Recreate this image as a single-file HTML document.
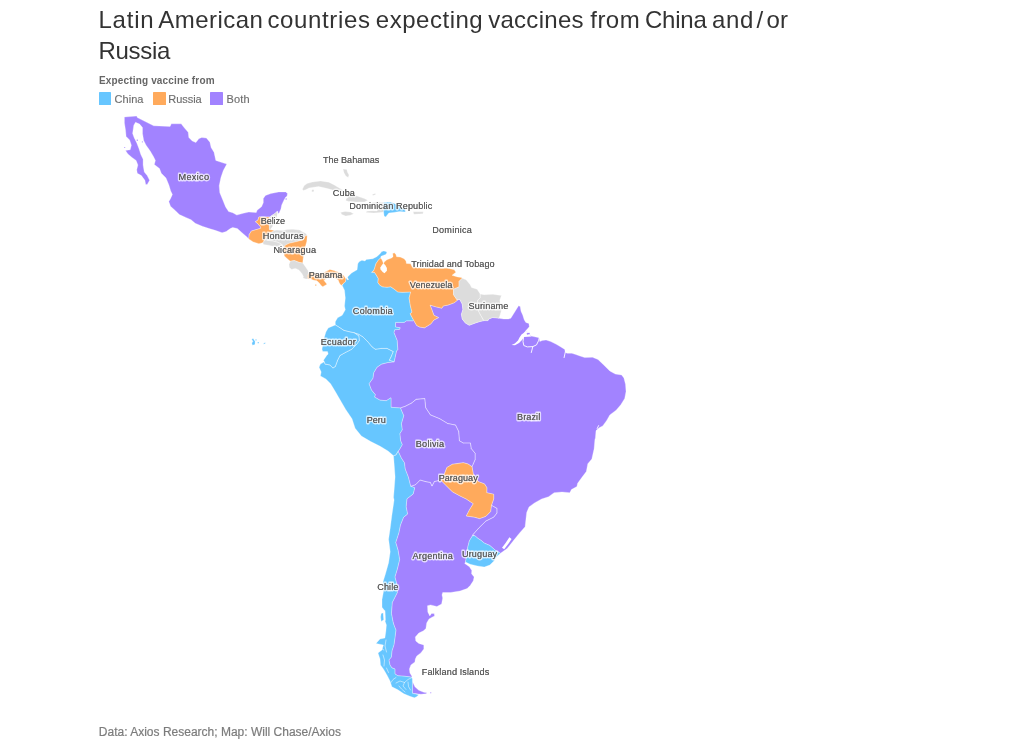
<!DOCTYPE html>
<html><head><meta charset="utf-8"><title>Latin American countries expecting vaccines</title>
<style>
html,body{margin:0;padding:0;background:#fff;}
body{width:1024px;height:752px;position:relative;overflow:hidden;font-family:"Liberation Sans",sans-serif;}
.tw{position:absolute;font-size:24px;line-height:24px;color:#333;white-space:nowrap;}
.lt{position:absolute;left:99px;top:75px;font-size:10px;font-weight:bold;color:#666;line-height:12px;white-space:nowrap;letter-spacing:0.157px;}
.lg{position:absolute;top:93.4px;font-size:11px;color:#6e6e6e;line-height:13px;white-space:nowrap;-webkit-text-stroke:0.15px #6e6e6e;}
.sw{position:absolute;top:92.3px;width:12.8px;height:12.6px;border-radius:0.6px;}
.src{position:absolute;left:98.85px;top:725px;font-size:12px;color:#7c7c7c;line-height:14px;white-space:nowrap;letter-spacing:0px;-webkit-text-stroke:0.2px #7c7c7c;}
</style></head><body><div id="root" style="position:absolute;left:0;top:0;width:1024px;height:752px;will-change:transform;">
<span class="tw" style="left:98.44px;top:8px;letter-spacing:0.775px">Latin</span><span class="tw" style="left:158.36px;top:8px;letter-spacing:0.435px">American</span><span class="tw" style="left:267.4px;top:8px;letter-spacing:0.64px">countries</span><span class="tw" style="left:375.86px;top:8px;letter-spacing:0.513px">expecting</span><span class="tw" style="left:488.2px;top:8px;letter-spacing:0.279px">vaccines</span><span class="tw" style="left:590.26px;top:8px;letter-spacing:0.46px">from</span><span class="tw" style="left:645.0px;top:8px;letter-spacing:-0.235px">China</span><span class="tw" style="left:711.96px;top:8px;letter-spacing:0.71px">and</span><span class="tw" style="left:756.5px;top:8px;letter-spacing:0px">/</span><span class="tw" style="left:766.47px;top:8px;letter-spacing:0.1px">or</span><span class="tw" style="left:98.44px;top:39px;letter-spacing:-0.27px">Russia</span>
<div class="lt">Expecting vaccine from</div>
<div class="sw" style="left:98.7px;background:#67C6FF"></div><div class="lg" style="left:114.5px;letter-spacing:0.05px">China</div>
<div class="sw" style="left:152.8px;background:#FFAA5C"></div><div class="lg" style="left:168.3px;letter-spacing:-0.04px">Russia</div>
<div class="sw" style="left:210.1px;background:#A283FF"></div><div class="lg" style="left:226.4px;letter-spacing:0.23px">Both</div>
<svg width="1024" height="752" viewBox="0 0 1024 752" style="position:absolute;left:0;top:0">
<g stroke="#fff" stroke-width="0.3" stroke-linejoin="round">
<path d="M458.2,299.6 459.8,299.4 462.2,304.1 462.9,309.6 461.4,314.3 462.2,319.0 465.3,322.9 469.2,325.3 475.5,322.9 480.2,321.4 484.1,320.6 488.0,320.6 488.8,319.0 492.7,317.5 495.9,317.8 499.0,318.2 503.7,319.0 508.4,319.0 510.8,318.2 514.7,312.0 518.6,305.7 520.2,306.5 521.0,311.2 522.7,315.0 524.2,319.7 525.8,322.4 528.9,323.6 529.3,326.7 527.3,329.1 525.8,330.6 531.3,336.1 539.1,337.7 539.8,341.6 542.2,340.4 546.1,340.0 550.8,341.6 556.3,344.3 560.9,347.0 564.8,349.4 565.2,352.5 567.2,353.3 571.9,353.3 575.8,354.5 580.0,356.0 584.7,357.6 592.5,357.3 598.0,359.5 603.5,364.7 609.8,371.0 615.3,374.1 621.6,374.9 623.9,378.0 625.5,384.3 626.0,391.4 624.7,398.4 620.8,404.7 616.1,410.2 609.8,414.9 606.7,420.4 602.7,425.9 599.6,427.5 596.0,430.6 595.4,438.0 594.9,439.4 594.1,448.8 591.8,459.0 587.8,463.7 586.3,471.6 581.6,477.8 577.6,483.3 576.9,486.5 571.4,489.6 569.8,492.7 562.0,492.0 554.1,492.7 548.6,496.7 541.6,499.0 534.5,502.9 529.0,506.9 526.7,512.4 525.9,519.4 525.1,526.7 519.6,532.9 513.3,540.8 507.1,548.6 500.5,553.3 495.3,550.2 489.8,545.5 484.3,543.1 481.2,540.5 478.0,538.4 474.9,535.8 472.5,535.1 478.8,528.0 485.9,521.0 493.7,517.1 496.9,513.1 496.9,508.4 491.4,505.3 493.7,499.0 493.7,494.3 486.7,492.7 486.9,487.8 484.5,483.9 478.2,481.6 473.3,473.9 472.0,466.7 475.1,459.6 475.1,453.3 471.2,448.6 470.4,443.1 463.3,443.1 459.4,440.8 458.6,431.4 455.5,425.1 447.6,423.5 439.8,418.8 430.4,414.9 425.7,407.8 424.7,398.6 416.1,399.4 411.6,403.1 405.3,406.3 400.4,408.0 391.0,407.3 391.0,397.8 386.3,400.7 380.0,400.2 374.5,397.1 375.3,394.7 371.4,390.0 369.0,383.7 372.9,378.2 373.7,372.7 376.9,367.3 381.6,364.1 387.8,362.5 394.1,361.8 396.5,350.8 397.8,349.8 397.1,340.4 393.9,332.5 394.7,329.7 399.4,329.4 400.2,327.8 395.5,327.1 395.5,322.4 404.1,322.4 406.5,320.8 412.7,320.8 413.5,320.0 416.7,325.5 419.8,327.1 424.5,327.8 430.8,323.9 433.9,320.0 438.6,317.6 433.9,315.3 431.6,309.0 430.0,305.1 435.5,306.7 441.8,308.2 443.3,305.9 448.0,305.1 454.3,302.7Z" fill="#A283FF"/>
<path d="M410.8,486.3 415.5,484.7 420.2,480.0 425.7,481.6 430.4,482.4 432.0,486.0 434.3,481.6 440.6,480.0 446.1,485.5 452.4,491.8 460.0,495.9 466.3,499.0 473.3,503.7 469.4,510.0 466.3,516.0 474.1,517.1 479.6,518.6 485.9,516.3 490.6,511.6 491.4,505.3 496.9,508.4 496.9,513.1 493.7,517.1 485.9,521.0 478.8,528.0 472.5,535.1 472.5,535.8 469.4,540.8 467.8,547.1 466.3,558.0 465.5,562.0 464.7,563.5 469.4,566.7 471.8,570.6 471.5,573.7 474.1,576.9 473.3,580.8 470.2,585.5 467.1,588.6 460.0,591.0 450.6,592.5 442.7,592.5 442.0,594.9 442.7,598.0 441.6,604.1 436.9,606.5 430.6,604.9 427.5,605.7 427.8,612.0 429.8,615.9 431.5,613.4 434.2,613.6 434.6,616.0 432.5,617.0 429.0,619.0 426.7,622.9 425.9,628.4 423.5,630.8 418.8,633.1 415.3,637.0 415.8,641.0 418.8,643.4 423.8,644.9 423.8,648.9 420.8,652.9 416.8,655.9 415.3,658.9 414.9,661.9 410.9,664.9 409.4,668.9 409.9,672.9 411.9,676.3 411.9,677.3 408.9,676.8 404.9,676.3 397.9,675.8 394.9,673.9 394.9,668.9 391.9,667.9 389.9,664.9 388.9,659.9 391.4,656.9 391.9,650.9 393.9,644.9 394.9,638.0 395.9,630.0 393.9,625.0 392.9,621.4 391.4,613.5 392.2,602.5 393.3,600.4 397.3,592.5 396.5,583.1 394.9,576.9 397.3,569.0 399.6,559.6 398.0,550.2 395.7,542.4 398.8,532.9 400.4,525.1 403.5,517.3 407.5,514.1 406.1,506.7 406.9,498.8 413.1,494.1 414.7,487.8ZM412.4,681.5 414.9,686.8 418.8,690.3 423.8,692.3 426.8,692.8 426.3,693.8 420.8,694.3 412.4,693.3ZM430.0,692.2 431.3,692.2 431.3,693.3 430.0,693.3Z" fill="#A283FF"/>
<path d="M393.5,455.7 395.9,454.9 398.2,451.0 401.4,458.0 404.5,462.7 405.3,469.0 408.4,476.9 410.8,486.3 414.7,487.8 413.1,494.1 406.9,498.8 406.1,506.7 407.5,514.1 403.5,517.3 400.4,525.1 398.8,532.9 395.7,542.4 398.0,550.2 399.6,559.6 397.3,569.0 394.9,576.9 396.5,583.1 397.3,592.5 393.3,600.4 392.2,602.5 391.4,613.5 392.9,621.4 393.9,625.0 395.9,630.0 394.9,638.0 393.9,644.9 391.9,650.9 391.4,656.9 388.9,659.9 389.9,664.9 391.9,667.9 394.9,668.9 394.9,673.9 397.9,675.8 404.9,676.3 408.9,676.8 411.9,677.3 412.4,679.3 412.4,693.3 418.8,694.8 416.5,696.8 414.4,697.8 409.9,696.3 403.9,693.8 397.9,689.8 391.9,686.8 389.9,680.8 386.9,674.9 383.4,668.9 380.5,664.9 380.0,658.9 378.0,652.9 382.0,650.0 383.4,645.0 376.0,643.4 380.0,639.0 384.9,638.0 385.9,631.0 386.4,625.0 385.0,621.0 384.5,610.4 382.0,607.3 382.0,599.4 383.5,591.6 383.1,581.6 385.5,573.7 388.6,562.7 390.2,551.8 388.6,539.2 390.2,528.2 391.8,515.7 394.1,500.0 393.5,497.3 394.3,487.8 395.1,476.9 394.3,465.9ZM381.2,613.5 383.3,612.8 383.8,619.8 381.2,621.4 380.6,617.0Z" fill="#67C6FF"/>
<path d="M400.4,408.0 405.3,406.3 411.6,403.1 416.1,399.4 424.7,398.6 425.7,407.8 430.4,414.9 439.8,418.8 447.6,423.5 455.5,425.1 458.6,431.4 459.4,440.8 463.3,443.1 470.4,443.1 471.2,448.6 475.1,453.3 475.1,459.6 472.0,466.7 468.0,464.0 463.3,462.7 452.4,464.3 446.9,467.5 444.5,473.7 440.6,480.0 434.3,481.6 432.0,486.0 430.4,482.4 425.7,481.6 420.2,480.0 415.5,484.7 410.8,486.3 408.4,476.9 405.3,469.0 404.5,462.7 401.4,458.0 398.2,451.0 399.0,450.2 402.2,444.7 400.6,440.8 399.8,433.7 402.2,429.8 401.4,423.5 403.7,415.7Z" fill="#A283FF"/>
<path d="M354.1,332.7 358.8,334.3 362.7,336.7 367.5,341.4 372.2,346.9 375.3,349.2 381.6,348.4 387.1,348.4 393.3,351.6 391.0,357.1 389.4,360.2 394.1,361.8 387.8,362.5 381.6,364.1 376.9,367.3 373.7,372.7 372.9,378.2 369.0,383.7 371.4,390.0 375.3,394.7 374.5,397.1 380.0,400.2 386.3,400.7 391.0,397.8 391.0,407.3 400.4,408.0 403.7,415.7 401.4,423.5 402.2,429.8 399.8,433.7 400.6,440.8 402.2,444.7 399.0,450.2 398.2,451.0 395.9,454.9 393.5,455.7 388.0,451.0 380.2,446.3 370.8,441.6 361.4,436.1 355.1,428.2 352.0,418.8 345.7,409.4 340.2,400.0 335.3,391.6 330.6,383.7 325.9,379.0 320.4,375.9 321.2,372.0 319.1,367.3 320.4,364.1 324.3,361.8 325.1,364.1 329.8,364.9 332.9,368.0 335.3,366.5 337.6,360.2 340.0,355.5 345.5,352.4 351.8,349.2 356.5,344.5 359.3,340.6 358.8,335.9Z" fill="#67C6FF"/>
<path d="M383.8,250.9 386.1,251.6 386.9,252.8 385.7,254.4 383.0,255.5 381.0,256.3 380.6,257.9 378.3,260.2 375.9,263.8 374.8,267.7 373.6,270.8 371.6,272.3 374.4,272.3 376.3,275.1 378.3,278.6 377.9,282.5 379.8,285.2 382.6,286.8 386.9,287.2 390.8,286.8 394.7,289.5 397.8,291.9 402.5,292.3 410.7,291.9 409.1,298.0 410.4,305.9 412.0,312.2 410.1,313.7 413.5,320.0 412.7,320.8 406.5,320.8 404.1,322.4 395.5,322.4 395.5,327.1 400.2,327.8 399.4,329.4 394.7,329.7 393.9,332.5 397.1,340.4 397.8,349.8 396.5,350.8 394.1,361.8 389.4,360.2 391.0,357.1 393.3,351.6 387.1,348.4 381.6,348.4 375.3,349.2 372.2,346.9 367.5,341.4 362.7,336.7 358.8,334.3 354.1,332.7 350.2,332.0 343.9,330.4 339.2,327.3 335.3,324.9 335.3,321.8 337.6,317.8 342.2,315.3 345.3,309.8 344.5,305.9 345.3,298.0 344.5,290.2 342.2,285.5 343.7,283.1 345.3,281.9 345.9,279.0 347.6,276.9 351.6,272.9 357.1,269.8 357.8,263.8 359.1,261.8 361.9,260.2 365.0,261.0 366.2,259.5 372.8,258.7 376.7,256.7 379.8,254.0 381.8,251.6Z" fill="#67C6FF"/>
<path d="M380.6,257.9 381.8,259.5 382.8,261.8 383.4,263.4 384.5,261.8 386.9,259.8 391.6,257.9 393.1,256.7 392.7,253.6 394.3,252.8 395.9,254.4 396.6,256.7 400.2,257.1 404.1,258.7 406.0,261.0 406.4,263.4 410.7,263.8 412.0,266.7 419.8,267.9 435.5,268.2 448.0,268.2 454.3,269.8 455.9,272.2 452.0,275.3 457.5,276.9 461.4,277.6 462.2,278.2 459.0,281.4 459.0,286.9 453.5,289.2 453.5,294.7 456.7,299.4 458.2,299.6 454.3,302.7 448.0,305.1 443.3,305.9 441.8,308.2 435.5,306.7 430.0,305.1 431.6,309.0 433.9,315.3 438.6,317.6 433.9,320.0 430.8,323.9 424.5,327.8 419.8,327.1 416.7,325.5 413.5,320.0 410.1,313.7 412.0,312.2 410.4,305.9 409.1,298.0 410.7,291.9 402.5,292.3 397.8,291.9 394.7,289.5 390.8,286.8 386.9,287.2 382.6,286.8 379.8,285.2 377.9,282.5 378.3,278.6 376.3,275.1 374.4,272.3 371.6,272.3 373.6,270.8 374.8,267.7 375.9,263.8 378.3,260.2Z" fill="#FFAA5C"/>
<path d="M335.3,324.9 339.2,327.3 343.9,330.4 350.2,332.0 354.1,332.7 358.8,335.9 359.3,340.6 356.5,344.5 351.8,349.2 345.5,352.4 340.0,355.5 337.6,360.2 335.3,366.5 332.9,368.0 329.8,364.9 325.1,364.1 324.3,361.8 323.5,360.2 326.7,355.5 328.2,353.9 327.5,351.6 322.7,351.6 322.0,349.2 323.5,340.0 325.9,332.0 328.2,328.0ZM251.6,339.0 253.2,338.4 255.1,341.5 255.0,344.6 252.4,345.2 251.8,343.0 253.0,341.5ZM255.4,339.2 256.6,339.2 256.6,340.4 255.4,340.4ZM257.6,342.0 259.0,342.0 259.0,343.3 257.6,343.3ZM263.6,343.2 265.2,342.6 265.4,343.6 263.8,344.2Z" fill="#67C6FF"/>
<path d="M440.6,480.0 444.5,473.7 446.9,467.5 452.4,464.3 463.3,462.7 468.0,464.0 472.0,466.7 473.3,473.9 478.2,481.6 484.5,483.9 486.9,487.8 486.7,492.7 493.7,494.3 493.7,499.0 491.4,505.3 490.6,511.6 485.9,516.3 479.6,518.6 474.1,517.1 466.3,516.0 469.4,510.0 473.3,503.7 466.3,499.0 460.0,495.9 452.4,491.8 446.1,485.5Z" fill="#FFAA5C"/>
<path d="M474.9,535.8 478.0,538.4 481.2,540.5 484.3,543.1 489.8,545.5 495.3,550.2 500.5,553.3 496.9,556.5 493.7,561.2 489.8,565.1 484.3,567.1 477.3,565.9 470.2,564.3 465.5,562.0 466.3,558.0 467.8,547.1 469.4,540.8 472.5,535.8Z" fill="#67C6FF"/>
<path d="M462.2,278.2 466.1,279.8 470.0,284.5 471.6,287.6 477.1,289.2 480.2,293.9 480.2,297.8 477.8,300.2 477.2,305.0 477.8,309.6 480.2,314.3 483.3,319.8 484.1,320.6 480.2,321.4 475.5,322.9 469.2,325.3 465.3,322.9 462.2,319.0 461.4,314.3 462.9,309.6 462.2,304.1 459.8,299.4 458.2,299.6 456.7,299.4 453.5,294.7 453.5,289.2 459.0,286.9 459.0,281.4Z" fill="#DCDCDC"/>
<path d="M480.2,293.9 484.1,294.7 492.7,294.2 501.4,295.5 499.8,300.2 500.4,305.0 501.4,310.4 499.8,315.9 499.0,318.2 495.9,317.8 492.7,317.5 488.8,319.0 488.0,320.6 484.1,320.6 483.3,319.8 480.2,314.3 477.8,309.6 477.2,305.0 477.8,300.2 480.2,297.8Z" fill="#DCDCDC"/>
<path d="M124.4,117.0 136.7,116.1 137.3,117.6 153.7,125.8 170.1,126.4 171.3,123.8 181.2,123.8 184.1,127.6 188.2,132.3 188.8,137.5 192.3,141.1 195.9,142.6 198.8,138.7 201.7,137.5 206.4,138.1 209.9,142.2 211.1,147.5 214.0,152.2 215.8,160.4 220.5,162.1 226.8,164.1 223.3,170.5 220.9,177.6 219.2,185.8 219.8,192.8 222.7,199.8 225.6,206.9 228.6,211.6 232.7,212.7 236.8,215.1 243.2,213.3 248.8,212.1 256.3,212.5 257.1,210.3 261.5,206.8 263.3,202.8 263.3,198.5 265.5,195.4 270.8,193.6 278.7,191.9 285.7,191.9 287.5,193.6 287.0,196.3 285.7,197.1 283.9,200.2 281.7,205.0 280.9,209.0 279.1,213.0 277.8,213.4 277.8,211.2 276.9,211.6 275.1,213.4 272.5,215.1 269.9,216.9 258.9,216.9 258.0,220.0 255.4,221.7 258.0,223.9 260.7,227.0 260.7,228.3 257.6,229.2 251.4,231.0 249.2,234.5 248.8,238.9 246.7,236.8 242.0,232.7 237.3,228.6 232.7,227.4 230.3,228.6 226.2,231.5 222.1,232.7 215.1,230.3 209.2,228.6 202.2,226.2 195.2,223.3 191.1,219.8 185.8,217.4 179.3,214.5 175.2,210.4 170.5,206.3 168.8,201.6 170.5,198.7 172.4,194.4 170.7,190.9 168.9,185.0 166.0,178.0 161.3,173.3 159.5,168.6 154.3,164.5 155.4,160.4 153.7,156.9 150.2,151.0 146.1,145.2 143.7,140.5 142.5,133.4 142.5,127.6 139.6,124.1 135.5,122.3 133.8,125.2 132.6,133.4 134.3,138.1 136.7,142.8 139.0,148.7 140.8,154.5 143.1,159.2 143.1,165.1 144.3,172.1 147.2,175.6 149.6,180.3 147.2,184.4 145.7,184.4 144.9,180.3 141.4,175.6 137.3,173.3 136.7,169.8 137.9,165.1 136.1,160.4 132.0,157.5 127.9,153.9 125.5,150.4 130.2,149.8 131.4,145.2 129.6,139.9 126.1,136.4 125.5,129.9 124.4,122.9ZM285.5,198.2 286.8,198.2 286.8,199.8 285.5,199.8ZM136.7,139.6 138.0,139.6 138.0,141.0 136.7,141.0ZM141.9,141.3 143.0,141.3 143.0,142.5 141.9,142.5ZM124.0,146.9 125.2,146.9 125.2,148.1 124.0,148.1Z" fill="#A283FF"/>
<path d="M258.9,216.9 269.4,216.9 269.4,229.6 274.3,230.5 272.5,231.8 269.0,232.7 267.0,236.0 265.0,239.8 262.8,242.8 258.9,243.7 253.2,241.9 248.8,238.9 249.2,234.5 251.4,231.0 257.6,229.2 260.7,228.3 260.7,227.0 258.0,223.9 255.4,221.7 258.0,220.0Z" fill="#FFAA5C"/>
<path d="M276.9,211.6 277.3,213.8 276.9,216.9 275.0,222.0 272.5,226.6 270.3,229.6 269.4,229.6 269.4,216.9 269.9,216.9 272.5,215.1 275.1,213.4Z" fill="#DCDCDC"/>
<path d="M274.3,230.5 276.9,230.1 282.2,230.5 287.5,229.6 292.7,229.2 299.8,230.1 302.4,231.8 305.9,233.6 307.2,235.4 305.0,236.2 303.3,239.8 297.1,241.5 289.2,243.3 285.6,245.0 283.8,247.0 283.2,246.4 281.4,244.1 277.9,242.3 273.1,241.1 269.0,240.5 265.0,239.8 267.0,236.0 269.0,232.7 272.5,231.8Z" fill="#DCDCDC"/>
<path d="M262.8,242.8 265.0,239.8 269.0,240.5 273.1,241.1 277.9,242.3 281.4,244.1 283.2,246.4 280.2,247.0 274.3,246.4 268.4,245.2 263.7,244.6Z" fill="#DCDCDC"/>
<path d="M307.2,235.4 306.8,241.5 305.5,245.9 304.2,251.0 303.3,257.7 302.7,263.0 299.2,262.4 294.4,260.6 290.3,261.2 287.3,258.8 284.4,255.9 283.6,252.0 283.8,247.0 285.6,245.0 289.2,243.3 297.1,241.5 303.3,239.8 305.0,236.2Z" fill="#FFAA5C"/>
<path d="M290.3,261.2 294.4,260.6 299.2,262.4 302.7,263.0 305.8,267.2 308.1,270.7 308.6,273.0 307.5,276.0 308.0,279.0 305.8,278.9 303.0,278.1 303.4,276.6 301.9,273.4 298.8,269.9 295.6,268.4 293.7,268.8 291.7,269.5 289.4,267.6 289.0,264.5Z" fill="#DCDCDC"/>
<path d="M308.6,273.0 313.0,272.0 318.0,274.5 324.0,272.5 329.9,269.5 334.7,270.7 340.6,273.0 344.1,276.0 345.9,279.0 345.3,281.9 343.0,283.7 341.2,285.5 339.4,283.1 338.2,280.1 334.0,277.5 330.0,276.5 326.0,278.5 324.0,280.5 325.2,281.9 327.0,284.3 322.8,286.7 321.1,285.5 319.3,283.1 316.9,280.7 313.0,280.0 311.0,279.0 308.0,279.0 307.5,276.0ZM315.0,284.6 316.4,284.6 316.4,285.8 315.0,285.8Z" fill="#FFAA5C"/>
<path d="M302.4,189.2 304.1,185.7 307.0,183.6 312.4,182.0 320.6,180.9 328.8,182.2 334.3,184.9 338.4,187.6 345.0,191.2 350.0,193.6 356.2,195.8 364.4,198.6 367.8,200.3 364.4,201.9 356.2,202.1 348.6,201.4 345.7,200.5 346.4,198.6 348.2,197.6 343.0,194.6 338.0,192.0 332.9,190.0 327.4,188.6 322.0,187.3 318.6,186.6 313.8,187.2 309.0,188.0 305.6,189.8 303.2,190.4ZM311.7,189.9 313.3,189.5 314.0,190.6 313.4,191.9 311.9,191.7ZM372.4,194.2 375.4,193.6 375.6,194.8 372.8,195.4ZM343.0,169.0 346.8,169.4 347.4,172.0 349.0,175.0 348.2,177.4 345.8,176.0 344.0,172.8Z" fill="#DCDCDC"/>
<path d="M340.5,212.5 345.0,211.5 350.4,212.1 353.8,213.7 350.4,215.3 345.7,216.0 341.8,214.5Z" fill="#DCDCDC"/>
<path d="M372.0,202.6 378.0,202.0 383.6,202.4 383.6,212.1 380.0,212.6 374.0,213.0 366.1,212.4 366.6,211.2 372.0,210.8 377.0,211.0 377.6,207.6 375.0,205.0 372.0,204.2Z" fill="#DCDCDC"/>
<path d="M383.6,202.4 390.4,202.0 394.3,203.5 400.0,206.5 405.3,209.0 405.3,212.1 399.8,211.4 393.5,212.5 388.8,213.0 385.7,216.9 384.1,216.1 383.6,212.1Z" fill="#67C6FF"/>
<path d="M413.1,211.7 423.3,211.8 423.0,213.7 413.9,214.3Z" fill="#DCDCDC"/>
</g>
<g fill="none" stroke="#fff" stroke-width="0.3" stroke-opacity="0.6" stroke-linecap="round">
<path d="M491.4,505.3L496.9,508.4M496.9,508.4L496.9,513.1M496.9,513.1L493.7,517.1M493.7,517.1L485.9,521.0M485.9,521.0L478.8,528.0M478.8,528.0L472.5,535.1M400.4,408.0L405.3,406.3M405.3,406.3L411.6,403.1M411.6,403.1L416.1,399.4M416.1,399.4L424.7,398.6M424.7,398.6L425.7,407.8M425.7,407.8L430.4,414.9M430.4,414.9L439.8,418.8M439.8,418.8L447.6,423.5M447.6,423.5L455.5,425.1M455.5,425.1L458.6,431.4M458.6,431.4L459.4,440.8M459.4,440.8L463.3,443.1M463.3,443.1L470.4,443.1M470.4,443.1L471.2,448.6M471.2,448.6L475.1,453.3M475.1,453.3L475.1,459.6M475.1,459.6L472.0,466.7M440.6,480.0L434.3,481.6M434.3,481.6L432.0,486.0M432.0,486.0L430.4,482.4M430.4,482.4L425.7,481.6M425.7,481.6L420.2,480.0M420.2,480.0L415.5,484.7M415.5,484.7L410.8,486.3M398.2,451.0L395.9,454.9M395.9,454.9L393.5,455.7M394.1,361.8L389.4,360.2M389.4,360.2L391.0,357.1M391.0,357.1L393.3,351.6M393.3,351.6L387.1,348.4M387.1,348.4L381.6,348.4M381.6,348.4L375.3,349.2M375.3,349.2L372.2,346.9M372.2,346.9L367.5,341.4M367.5,341.4L362.7,336.7M362.7,336.7L358.8,334.3M358.8,334.3L354.1,332.7M354.1,332.7L358.8,335.9M358.8,335.9L359.3,340.6M359.3,340.6L356.5,344.5M356.5,344.5L351.8,349.2M351.8,349.2L345.5,352.4M345.5,352.4L340.0,355.5M340.0,355.5L337.6,360.2M337.6,360.2L335.3,366.5M335.3,366.5L332.9,368.0M332.9,368.0L329.8,364.9M329.8,364.9L325.1,364.1M325.1,364.1L324.3,361.8M335.3,324.9L339.2,327.3M339.2,327.3L343.9,330.4M343.9,330.4L350.2,332.0M350.2,332.0L354.1,332.7M484.1,320.6L483.3,319.8M483.3,319.8L480.2,314.3M480.2,314.3L477.8,309.6M477.8,309.6L477.2,305.0M477.2,305.0L477.8,300.2M477.8,300.2L480.2,297.8M480.2,297.8L480.2,293.9M265.0,239.8L269.0,240.5M269.0,240.5L273.1,241.1M273.1,241.1L277.9,242.3M277.9,242.3L281.4,244.1M281.4,244.1L283.2,246.4"/>
</g>
<g fill="#fff">
<path d="M383.4,263.0 385.3,265.3 386.9,268.0 386.9,270.8 384.5,273.2 382.6,272.0 380.6,269.6 380.2,267.7 381.8,265.3Z"/>
<path d="M526.0,330.4 531.6,336.4 523.9,337.0 522.0,340.0 519.0,343.0 515.0,345.3 511.5,345.0 514.8,343.5 518.0,340.6 519.5,337.6 521.5,334.6 523.6,333.0Z"/>
<path d="M509.4,537.2 511.6,538.9 508.6,543.6 504.2,549.2 502.0,547.8 505.4,543.2Z"/>
<path d="M347.0,276.4 348.8,279.6 347.6,280.2 346.0,277.6Z"/>
<path d="M383.4,610.6 385.2,610.6 385.6,620.6 384.0,621.6Z"/>
</g>
<g fill="#A283FF">
<path d="M526.6,333.2 529.4,332.7 529.9,334.1 527.0,334.7Z"/>
</g>
<g fill="none" stroke="#fff" stroke-width="0.9" stroke-linecap="round" stroke-linejoin="round">
<path d="M523.6,337.0 523.0,341.6 523.8,345.5 527.3,346.9 532.8,346.6 536.5,344.9 538.5,340.8 539.3,337.7"/>
<path d="M532.8,346.6 531.3,352.5"/>
<path d="M565.2,352.5 564.1,357.6"/>
<path d="M598.6,425.6 597.2,428.5"/>
</g>
<g fill="none" stroke="#fff" stroke-width="0.6" stroke-opacity="0.85" stroke-linecap="round" stroke-linejoin="round">
<path d="M412.0,677.5 408.0,679.5 404.5,682.5 403.0,686.0 406.0,689.5"/>
<path d="M404.5,682.5 400.0,681.0 396.0,683.0"/>
<path d="M396.0,677.5 393.0,679.5 391.0,682.5"/>
<path d="M399.0,686.0 401.5,689.0 405.0,692.0"/>
<path d="M408.0,682.0 408.5,686.5 410.5,690.0"/>
<path d="M386.0,640.0 385.0,646.0 386.5,652.0"/>
<path d="M383.0,655.0 384.5,660.0 384.0,666.0"/>
<path d="M381.5,648.5 383.8,650.0"/>
<path d="M386.5,668.0 388.5,672.5"/>
<path d="M384.5,626.0 383.6,632.0"/>
</g>
<g font-family="Liberation Sans, sans-serif" font-size="9.2" text-anchor="middle" fill="#5e5e5e" stroke="#fff" stroke-opacity="0.7" stroke-width="2.8" stroke-linejoin="round" paint-order="stroke">
<text x="193.8" y="180.0" textLength="30.6" lengthAdjust="spacing">Mexico</text>
<text x="351.2" y="163.1" textLength="56.3" lengthAdjust="spacing">The Bahamas</text>
<text x="343.9" y="195.7" textLength="22.1" lengthAdjust="spacing">Cuba</text>
<text x="390.8" y="209.0" textLength="83.0" lengthAdjust="spacing">Dominican Republic</text>
<text x="452.0" y="233.2" textLength="39.6" lengthAdjust="spacing">Dominica</text>
<text x="272.9" y="223.7" textLength="24.2" lengthAdjust="spacing">Belize</text>
<text x="283.2" y="239.3" textLength="40.8" lengthAdjust="spacing">Honduras</text>
<text x="294.7" y="252.9" textLength="42.6" lengthAdjust="spacing">Nicaragua</text>
<text x="453.0" y="266.8" textLength="83.3" lengthAdjust="spacing">Trinidad and Tobago</text>
<text x="325.5" y="278.4" textLength="33.6" lengthAdjust="spacing">Panama</text>
<text x="431.1" y="287.8" textLength="42.5" lengthAdjust="spacing">Venezuela</text>
<text x="488.5" y="308.8" textLength="39.8" lengthAdjust="spacing">Suriname</text>
<text x="372.8" y="313.6" textLength="39.9" lengthAdjust="spacing">Colombia</text>
<text x="338.2" y="345.4" textLength="35.0" lengthAdjust="spacing">Ecuador</text>
<text x="376.3" y="422.9" textLength="19.2" lengthAdjust="spacing">Peru</text>
<text x="528.6" y="419.9" textLength="23.3" lengthAdjust="spacing">Brazil</text>
<text x="429.9" y="446.6" textLength="28.3" lengthAdjust="spacing">Bolivia</text>
<text x="458.2" y="480.8" textLength="39.1" lengthAdjust="spacing">Paraguay</text>
<text x="432.7" y="558.8" textLength="40.2" lengthAdjust="spacing">Argentina</text>
<text x="479.6" y="556.5" textLength="35.1" lengthAdjust="spacing">Uruguay</text>
<text x="387.8" y="589.7" textLength="21.1" lengthAdjust="spacing">Chile</text>
<text x="455.5" y="675.0" textLength="67.6" lengthAdjust="spacing">Falkland Islands</text>
</g>
<g font-family="Liberation Sans, sans-serif" font-size="9.2" text-anchor="middle" fill="#5e5e5e" stroke="none">
<text x="193.8" y="180.0" textLength="30.6" lengthAdjust="spacing">Mexico</text>
<text x="351.2" y="163.1" textLength="56.3" lengthAdjust="spacing">The Bahamas</text>
<text x="343.9" y="195.7" textLength="22.1" lengthAdjust="spacing">Cuba</text>
<text x="390.8" y="209.0" textLength="83.0" lengthAdjust="spacing">Dominican Republic</text>
<text x="452.0" y="233.2" textLength="39.6" lengthAdjust="spacing">Dominica</text>
<text x="272.9" y="223.7" textLength="24.2" lengthAdjust="spacing">Belize</text>
<text x="283.2" y="239.3" textLength="40.8" lengthAdjust="spacing">Honduras</text>
<text x="294.7" y="252.9" textLength="42.6" lengthAdjust="spacing">Nicaragua</text>
<text x="453.0" y="266.8" textLength="83.3" lengthAdjust="spacing">Trinidad and Tobago</text>
<text x="325.5" y="278.4" textLength="33.6" lengthAdjust="spacing">Panama</text>
<text x="431.1" y="287.8" textLength="42.5" lengthAdjust="spacing">Venezuela</text>
<text x="488.5" y="308.8" textLength="39.8" lengthAdjust="spacing">Suriname</text>
<text x="372.8" y="313.6" textLength="39.9" lengthAdjust="spacing">Colombia</text>
<text x="338.2" y="345.4" textLength="35.0" lengthAdjust="spacing">Ecuador</text>
<text x="376.3" y="422.9" textLength="19.2" lengthAdjust="spacing">Peru</text>
<text x="528.6" y="419.9" textLength="23.3" lengthAdjust="spacing">Brazil</text>
<text x="429.9" y="446.6" textLength="28.3" lengthAdjust="spacing">Bolivia</text>
<text x="458.2" y="480.8" textLength="39.1" lengthAdjust="spacing">Paraguay</text>
<text x="432.7" y="558.8" textLength="40.2" lengthAdjust="spacing">Argentina</text>
<text x="479.6" y="556.5" textLength="35.1" lengthAdjust="spacing">Uruguay</text>
<text x="387.8" y="589.7" textLength="21.1" lengthAdjust="spacing">Chile</text>
<text x="455.5" y="675.0" textLength="67.6" lengthAdjust="spacing">Falkland Islands</text>
</g>
</svg>
<div class="src">Data: Axios Research; Map: Will Chase/Axios</div>
</div></body></html>
